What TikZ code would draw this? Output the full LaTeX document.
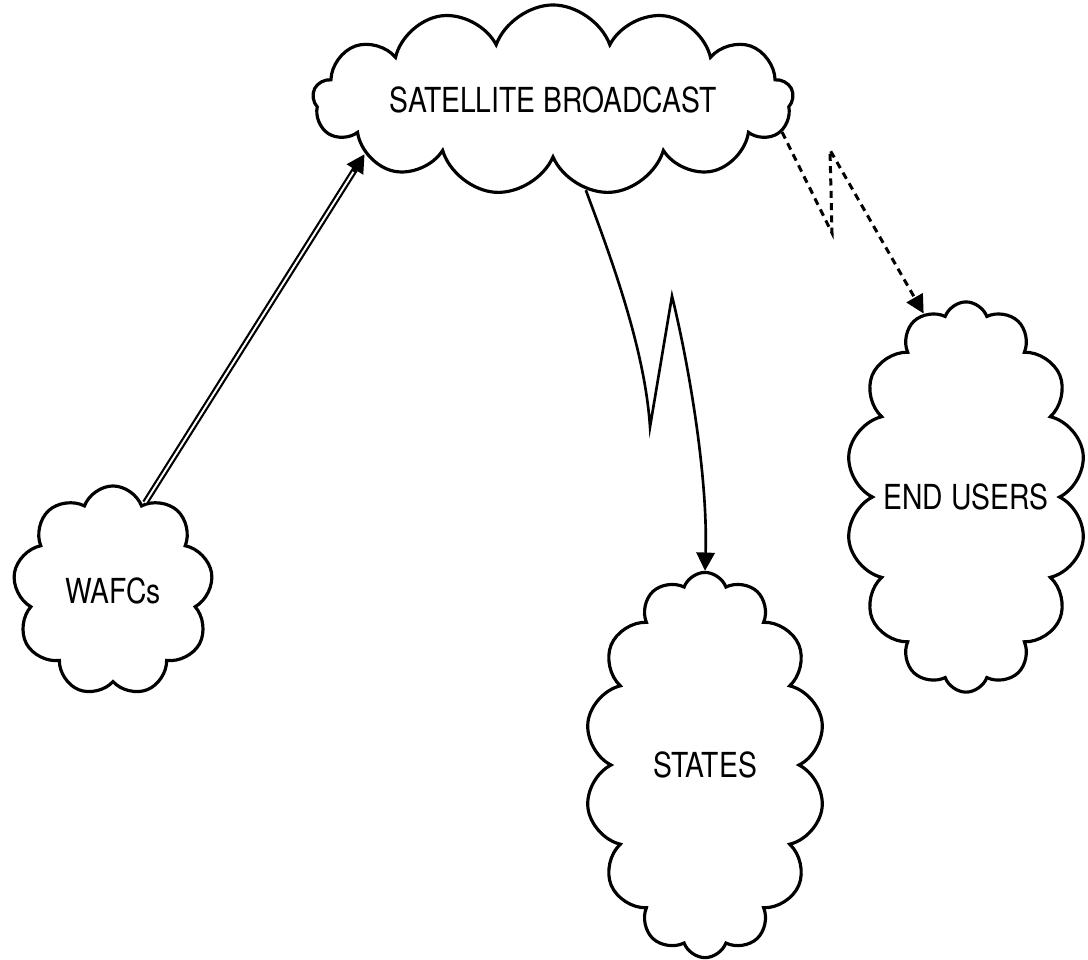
\documentclass[tikz,border=0pt]{standalone}
\usepackage{fontspec}
\setmainfont{TeX Gyre Heros}[FakeStretch=0.82]
\usepackage{tikz}
\usetikzlibrary{shapes.symbols,arrows.meta}

\begin{document}
\begin{tikzpicture}[x=0.01cm,y=-0.01cm,
  font=\fontsize{9.8}{11}\selectfont,
  >={Triangle[length=5.2pt,width=5.2pt]},
  cloudbox/.style={draw,cloud,cloud ignores aspect,cloud puff arc=140,line width=0.9pt,inner sep=0pt},
  feed/.style={->,line width=1.8pt,postaction={draw=white,line width=0.55pt,-,shorten >=6pt}},
  radio/.style={->,line width=0.75pt},
  relay/.style={->,line width=0.85pt,dash pattern=on 2pt off 1.5pt},
]
  \useasboundingbox (0,0) rectangle (1088,959);

  \node[cloudbox,cloud puffs=13,minimum width=4.8cm,minimum height=1.9cm] (sat) at (553,100) {SATELLITE BROADCAST};
  \node[cloudbox,cloud puffs=9,minimum width=2.0cm,minimum height=2.1cm] (wafc) at (113,591) {WAFCs};
  \node[cloudbox,cloud puffs=14,minimum width=2.4cm,minimum height=3.9cm] (users) at (966,497) {END USERS};
  \node[cloudbox,cloud puffs=14,minimum width=2.4cm,minimum height=3.85cm] (states) at (705,765) {STATES};

  % bends of the radio links
  \coordinate (zig1) at (650,427);
  \coordinate (zig2) at (672,296);
  \coordinate (zig3) at (832,233);
  \coordinate (zig4) at (830,150);

  \draw[feed] (wafc.70) -- (sat.196);
  \draw[radio] (sat.290) .. controls (612,260) and (645,350) .. (zig1) -- (zig2)
    .. controls (690,370) and (708,480) .. (states.north);
  \draw[relay] (sat.352) -- (zig3) -- (zig4) -- (users.103);
\end{tikzpicture}
\end{document}
